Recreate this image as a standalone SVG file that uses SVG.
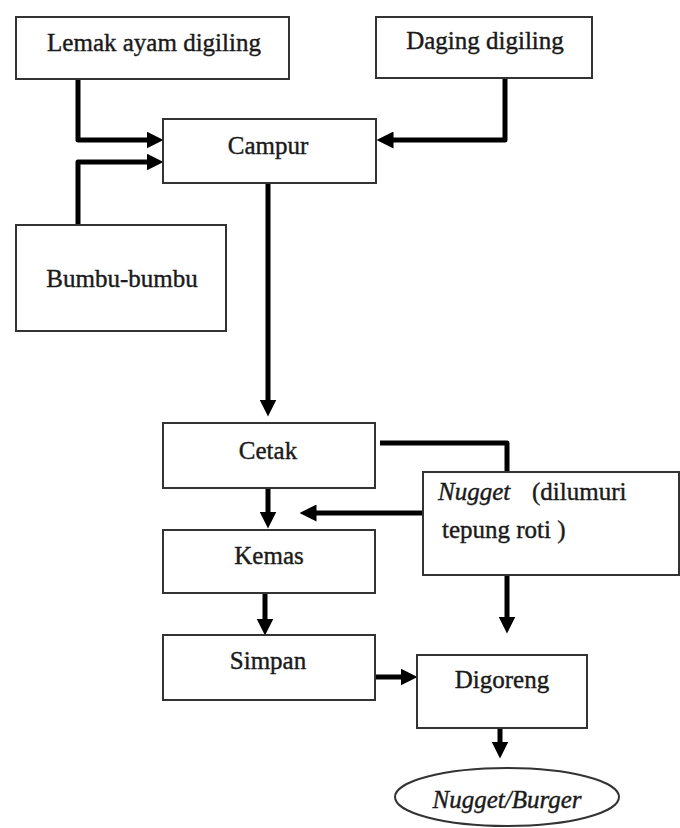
<svg xmlns="http://www.w3.org/2000/svg" width="680" height="828" viewBox="0 0 680 828">
<style>
.box{fill:#fff;stroke:#333;stroke-width:2}
.t{font-family:"Liberation Serif","Times New Roman",serif;font-size:25px;fill:#1a1a1a;stroke:#1a1a1a;stroke-width:0.4;text-anchor:middle}
.it{font-style:italic}
.c{fill:none;stroke:#000;stroke-width:5;stroke-linejoin:round}
</style>
<defs>
<marker id="ah" viewBox="0 0 16 16" refX="8" refY="8" markerWidth="17" markerHeight="17" markerUnits="userSpaceOnUse" orient="auto">
<path d="M0,0 L16,8 L0,16 Z" fill="#000"/>
</marker>
</defs>
<rect width="680" height="828" fill="#fff"/>
<g id="connectors">
<path class="c" d="M78,79 V140 H155" marker-end="url(#ah)"/>
<path class="c" d="M78,225 V162 H155" marker-end="url(#ah)"/>
<path class="c" d="M505,78 V140 H385" marker-end="url(#ah)"/>
<path class="c" d="M268,183 V408" marker-end="url(#ah)"/>
<path class="c" d="M268,488 V520" marker-end="url(#ah)"/>
<path class="c" d="M265,593 V627" marker-end="url(#ah)"/>
<path class="c" d="M380,443 H507 V472"/>
<path class="c" d="M423,513 H308" marker-end="url(#ah)"/>
<path class="c" d="M507,575 V625" marker-end="url(#ah)"/>
<path class="c" d="M375,677 H409" marker-end="url(#ah)"/>
<path class="c" d="M500,728 V750" marker-end="url(#ah)"/>
</g>
<g id="lemak"><rect class="box" x="16" y="17" width="273" height="62"/><text class="t" x="154" y="51">Lemak ayam digiling</text></g>
<g id="daging"><rect class="box" x="376" y="17" width="216" height="61"/><text class="t" x="485" y="49">Daging digiling</text></g>
<g id="campur"><rect class="box" x="163" y="119" width="213" height="64"/><text class="t" x="268" y="154">Campur</text></g>
<g id="bumbu"><rect class="box" x="16" y="225" width="210" height="106"/><text class="t" x="122" y="287">Bumbu-bumbu</text></g>
<g id="cetak"><rect class="box" x="163" y="423" width="212" height="65"/><text class="t" x="268" y="459">Cetak</text></g>
<g id="kemas"><rect class="box" x="163" y="530" width="212" height="63"/><text class="t" x="269" y="564">Kemas</text></g>
<g id="simpan"><rect class="box" x="163" y="635" width="212" height="65"/><text class="t" x="268" y="669">Simpan</text></g>
<g id="nugget"><rect class="box" x="423" y="472" width="256" height="103"/>
<text class="t" x="438" y="500" style="text-anchor:start"><tspan class="it">Nugget</tspan><tspan x="532">(dilumuri</tspan></text>
<text class="t" x="442" y="538" style="text-anchor:start">tepung roti )</text></g>
<g id="digoreng"><rect class="box" x="417" y="655" width="170" height="73"/><text class="t" x="502" y="688">Digoreng</text></g>
<g id="hasil"><ellipse class="box" cx="507" cy="797" rx="112" ry="29"/><text class="t it" x="507" y="808">Nugget/Burger</text></g>
</svg>
